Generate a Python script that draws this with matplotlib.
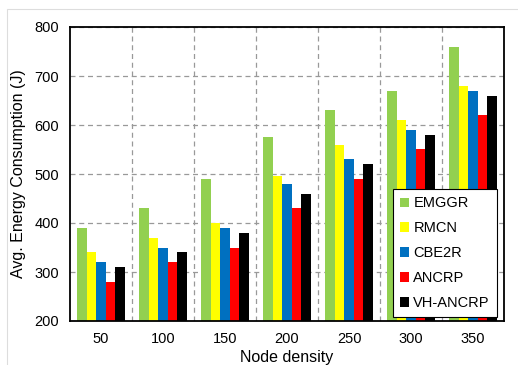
import numpy as np
import matplotlib.pyplot as plt
from matplotlib.patches import Rectangle

plt.rcParams['font.family'] = ['Liberation Sans', 'DejaVu Sans']

# average energy consumption per routing protocol vs. node density
densities = ["50", "100", "150", "200", "250", "300", "350"]
protocols = ["EMGGR", "RMCN", "CBE2R", "ANCRP", "VH-ANCRP"]
emggr = [390, 430, 490, 575, 630, 670, 760]
rmcn = [340, 370, 400, 495, 560, 610, 680]
cbe2r = [320, 350, 390, 480, 530, 590, 670]
ancrp = [280, 320, 350, 430, 490, 550, 620]
vh_ancrp = [310, 340, 380, 460, 520, 580, 660]
colors = ["#92D050", "#FFFF00", "#0070C0", "#FF0000", "#000000"]

fig = plt.figure(figsize=(5.18, 3.65), dpi=100)
ax = fig.add_axes([70 / 518, 1 - 321 / 365, 434 / 518, 294 / 365])

x = np.arange(len(densities))
width = 0.155
series = [emggr, rmcn, cbe2r, ancrp, vh_ancrp]
for i, (name, vals, c) in enumerate(zip(protocols, series, colors)):
    ax.bar(x + (i - 2) * width, np.array(vals) - 200, width, bottom=200,
           color=c, label=name, zorder=3)

ax.set_xlim(-0.5, len(densities) - 0.5)
ax.set_ylim(200, 800)
ax.set_yticks(range(200, 801, 100))
ax.set_xticks(x)
ax.set_xticklabels(densities)
# dashed grid between groups and at the y ticks
ax.set_xticks(x[:-1] + 0.5, minor=True)
ax.grid(True, which="minor", axis="x", ls=(0, (4, 3)), color="#999999", lw=0.9, zorder=0)
ax.grid(True, which="major", axis="y", ls=(0, (4, 3)), color="#999999", lw=0.9, zorder=0)
ax.tick_params(which="both", length=0, labelsize=10.5, pad=8)
for s in ax.spines.values():
    s.set_linewidth(1.3)
    s.set_zorder(4)

ax.set_ylabel("Avg. Energy Consumption (J)", fontsize=11.5, labelpad=6)
ax.set_xlabel("Node density", fontsize=11.5, labelpad=3)

leg = ax.legend(loc="upper left", bbox_to_anchor=(323 / 434, 132 / 294), fontsize=10.5,
                frameon=True, fancybox=False, edgecolor="black", framealpha=1,
                handlelength=0.6, handleheight=0.6, handletextpad=0.3,
                labelspacing=0.75, borderpad=0.5, borderaxespad=0)
leg.get_frame().set_linewidth(0.8)
leg.set_zorder(5)

# light frame around the figure
fig.patches.append(Rectangle((7 / 518, -0.1), 1.2, (365 - 9) / 365 + 0.1,
                             transform=fig.transFigure, fill=False,
                             edgecolor="#dddddd", lw=0.8))

fig.savefig("out.png", dpi=100)
